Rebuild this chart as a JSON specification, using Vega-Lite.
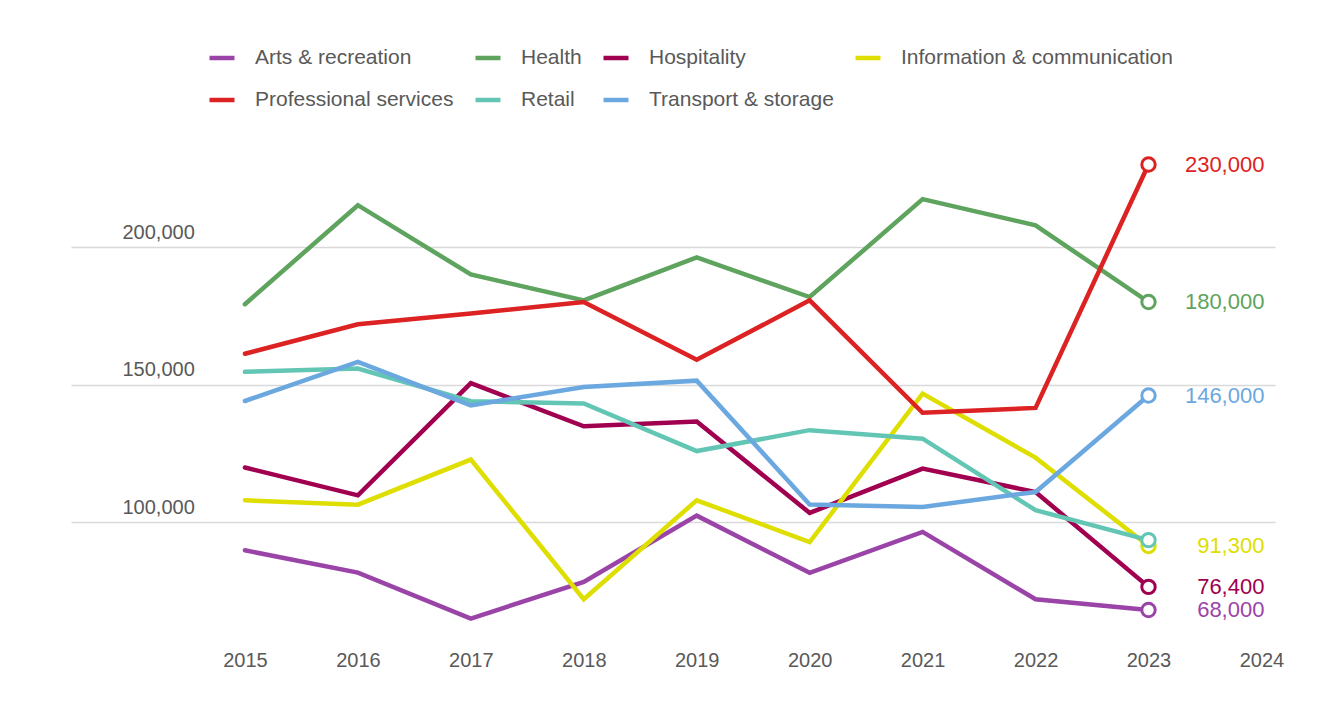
{
  "$schema": "https://vega.github.io/schema/vega-lite/v6.json",
  "width": 1204,
  "height": 495,
  "autosize": {"type": "none"},
  "padding": {"left": 71, "top": 137, "right": 69, "bottom": 70},
  "background": "white",
  "data": {
    "values": [
      {"year": 2015, "industry": "Arts & recreation", "value": 89700},
      {"year": 2016, "industry": "Arts & recreation", "value": 81600},
      {"year": 2017, "industry": "Arts & recreation", "value": 64900},
      {"year": 2018, "industry": "Arts & recreation", "value": 78200},
      {"year": 2019, "industry": "Arts & recreation", "value": 102300},
      {"year": 2020, "industry": "Arts & recreation", "value": 81500},
      {"year": 2021, "industry": "Arts & recreation", "value": 96400},
      {"year": 2022, "industry": "Arts & recreation", "value": 71900},
      {"year": 2023, "industry": "Arts & recreation", "value": 68000},
      {"year": 2015, "industry": "Health", "value": 179200},
      {"year": 2016, "industry": "Health", "value": 215200},
      {"year": 2017, "industry": "Health", "value": 190000},
      {"year": 2018, "industry": "Health", "value": 180600},
      {"year": 2019, "industry": "Health", "value": 196200},
      {"year": 2020, "industry": "Health", "value": 181800},
      {"year": 2021, "industry": "Health", "value": 217400},
      {"year": 2022, "industry": "Health", "value": 207900},
      {"year": 2023, "industry": "Health", "value": 180000},
      {"year": 2015, "industry": "Hospitality", "value": 119800},
      {"year": 2016, "industry": "Hospitality", "value": 109700},
      {"year": 2017, "industry": "Hospitality", "value": 150500},
      {"year": 2018, "industry": "Hospitality", "value": 134800},
      {"year": 2019, "industry": "Hospitality", "value": 136500},
      {"year": 2020, "industry": "Hospitality", "value": 103300},
      {"year": 2021, "industry": "Hospitality", "value": 119400},
      {"year": 2022, "industry": "Hospitality", "value": 110900},
      {"year": 2023, "industry": "Hospitality", "value": 76400},
      {"year": 2015, "industry": "Information & communication", "value": 107900},
      {"year": 2016, "industry": "Information & communication", "value": 106300},
      {"year": 2017, "industry": "Information & communication", "value": 122700},
      {"year": 2018, "industry": "Information & communication", "value": 71900},
      {"year": 2019, "industry": "Information & communication", "value": 107900},
      {"year": 2020, "industry": "Information & communication", "value": 92700},
      {"year": 2021, "industry": "Information & communication", "value": 146700},
      {"year": 2022, "industry": "Information & communication", "value": 123400},
      {"year": 2023, "industry": "Information & communication", "value": 91300},
      {"year": 2015, "industry": "Professional services", "value": 161200},
      {"year": 2016, "industry": "Professional services", "value": 171900},
      {"year": 2017, "industry": "Professional services", "value": 175800},
      {"year": 2018, "industry": "Professional services", "value": 180000},
      {"year": 2019, "industry": "Professional services", "value": 159000},
      {"year": 2020, "industry": "Professional services", "value": 180600},
      {"year": 2021, "industry": "Professional services", "value": 139700},
      {"year": 2022, "industry": "Professional services", "value": 141500},
      {"year": 2023, "industry": "Professional services", "value": 230000},
      {"year": 2015, "industry": "Retail", "value": 154600},
      {"year": 2016, "industry": "Retail", "value": 155800},
      {"year": 2017, "industry": "Retail", "value": 143900},
      {"year": 2018, "industry": "Retail", "value": 143100},
      {"year": 2019, "industry": "Retail", "value": 125800},
      {"year": 2020, "industry": "Retail", "value": 133400},
      {"year": 2021, "industry": "Retail", "value": 130300},
      {"year": 2022, "industry": "Retail", "value": 104300},
      {"year": 2023, "industry": "Retail", "value": 93400},
      {"year": 2015, "industry": "Transport & storage", "value": 144000},
      {"year": 2016, "industry": "Transport & storage", "value": 158200},
      {"year": 2017, "industry": "Transport & storage", "value": 142400},
      {"year": 2018, "industry": "Transport & storage", "value": 149100},
      {"year": 2019, "industry": "Transport & storage", "value": 151400},
      {"year": 2020, "industry": "Transport & storage", "value": 106400},
      {"year": 2021, "industry": "Transport & storage", "value": 105500},
      {"year": 2022, "industry": "Transport & storage", "value": 110900},
      {"year": 2023, "industry": "Transport & storage", "value": 146000}
    ]
  },
  "encoding": {
    "x": {
      "field": "year", "type": "quantitative", "title": null,
      "scale": {"domain": [2013.46, 2024.12], "nice": false, "zero": false},
      "axis": {
        "values": [2015, 2016, 2017, 2018, 2019, 2020, 2021, 2022, 2023, 2024],
        "format": "d", "grid": false, "domain": false, "ticks": false,
        "labelPadding": 18, "labelFlush": false
      }
    },
    "y": {
      "field": "value", "type": "quantitative", "title": null,
      "scale": {"domain": [60000, 240000], "nice": false, "zero": false},
      "axis": {
        "values": [100000, 150000, 200000], "format": ",.0f",
        "grid": true, "gridColor": "#d9d9d9", "gridWidth": 1.5,
        "domain": false, "ticks": false, "tickSize": 0,
        "labelAlign": "left", "labelPadding": -51,
        "labelBaseline": "alphabetic", "labelOffset": -9
      }
    },
    "color": {
      "field": "industry", "type": "nominal",
      "scale": {
        "domain": ["Arts & recreation", "Health", "Hospitality", "Information & communication", "Professional services", "Retail", "Transport & storage"],
        "range": ["#9A44A8", "#5EA35E", "#A0004F", "#DEDE00", "#DC2222", "#63C6B5", "#6CA8E0"]
      },
      "legend": {
        "title": null, "orient": "none", "legendX": 136, "legendY": -94,
        "direction": "horizontal", "columns": 4,
        "symbolType": "stroke", "symbolSize": 625, "symbolStrokeWidth": 4.5,
        "labelFontSize": 21, "labelColor": "#595959", "labelOffset": 18,
        "labelLimit": 400, "columnPadding": 12, "rowPadding": 17, "padding": 0
      }
    }
  },
  "layer": [
    {
      "mark": {"type": "line", "strokeWidth": 4.5, "strokeCap": "round"}
    },
    {
      "transform": [{"filter": "datum.year == 2023"}],
      "mark": {"type": "point", "shape": "circle", "filled": false, "fill": "white", "size": 180, "strokeWidth": 3, "opacity": 1}
    },
    {
      "transform": [{"filter": "datum.year == 2023 && datum.industry != 'Retail'"}],
      "mark": {"type": "text", "align": "right", "baseline": "middle", "dx": 3, "fontSize": 22},
      "encoding": {
        "x": {"datum": 2024, "type": "quantitative"},
        "text": {"field": "value", "type": "quantitative", "format": ",.0f"}
      }
    }
  ],
  "config": {
    "font": "Liberation Sans",
    "view": {"stroke": null},
    "axis": {"labelFontSize": 20, "labelColor": "#595959"}
  }
}
